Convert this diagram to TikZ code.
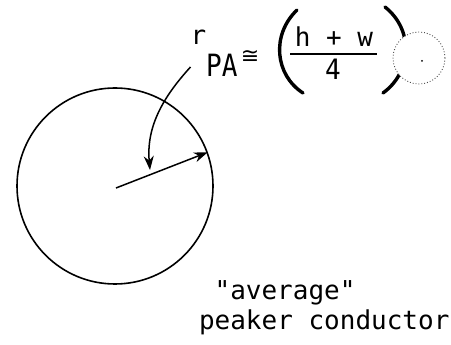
\documentclass[tikz,border=0pt]{standalone}
\usepackage{fontspec}
\usepackage{graphicx}
\usetikzlibrary{arrows.meta}
\newfontfamily\tw{DejaVu Sans Mono}
\newfontfamily\dvs{DejaVu Sans}
\tikzset{
  txt/.style={inner sep=0pt, outer sep=0pt, font=\tw\fontsize{26}{30}\selectfont},
  thick line/.style={line width=1.6pt},
  paren/.style={line width=3.4pt, line cap=round},
  arr/.style={line width=1.5pt, -{Stealth[length=14pt,width=10pt]}}
}
\begin{document}
\begin{tikzpicture}[x=1pt,y=1pt]
\useasboundingbox (0,0) rectangle (451,-345);
% large conductor
\node[circle, draw, thick line, minimum size=196pt, inner sep=0pt] (C) at (115,-186) {};
\coordinate (ctr) at (116,-188);
% formula
\node[txt, anchor=base west] (rpa) at (190.5,-45) {r\raisebox{-32pt}{\scalebox{1}[1.18]{PA}}};
\node[inner sep=0pt, anchor=base, font=\dvs\fontsize{22}{24}\selectfont] (cong) at (250,-64) {≅};
\node[txt, anchor=base] (num) at (334,-47) {h + w};
\node[txt, anchor=base] (den) at (333,-80) {\scalebox{1}[1.08]{4}};
\draw[line width=1.3pt] (290,-54) -- (377,-54);
\draw[paren] (297,-10) .. controls (271,-35) and (275,-75) .. (303,-93);
\draw[paren] (385,-7) .. controls (414,-30) and (412,-72) .. (383,-93);
% small dotted circle
\node[circle, draw=black!70, dotted, line width=0.9pt, fill=white, minimum size=52pt, inner sep=0pt] (S) at (419,-58) {};
\fill (422,-61) circle (1pt);
% arrows
\draw[arr] ([yshift=10pt]rpa.south west) .. controls (165,-95) and (146,-125) .. (150,-170);
\draw[arr] (ctr) -- (C.20);
% caption
\node[txt, anchor=base west] (t1) at (214.6,-300) {"average"};
\node[txt, anchor=base west] (t2) at (199,-330) {peaker conductor};
\end{tikzpicture}
\end{document}
